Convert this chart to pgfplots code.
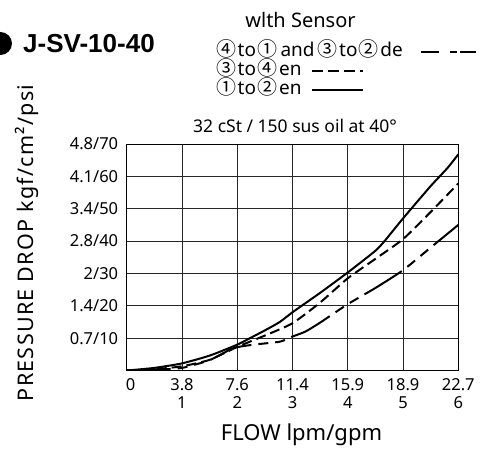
\documentclass[border=0pt]{standalone}
\usepackage{pgfplots}
\pgfplotsset{compat=1.18}
\usepackage{fontspec}
\setmainfont{Noto Sans}
\newfontfamily\cjk{Noto Sans CJK TC}
\newfontfamily\arial{Liberation Sans}
\newcommand\cn[1]{{\cjk\fontsize{20}{21}\selectfont #1}}
\begin{document}
\begin{tikzpicture}[x=1pt,y=1pt]
\begin{axis}[
  at={(126.7pt,77.5pt)}, anchor=south west,
  scale only axis, width=331.6pt, height=226.5pt,
  xmin=0, xmax=6, ymin=0, ymax=70,
  xtick={0,1,2,3,4,5,6}, ytick={0,10,20,30,40,50,60,70},
  xticklabels={{\hspace*{8pt}0},{3.8\\1},{7.6\\2},{11.4\\3},{15.9\\4},{18.9\\5},{22.7\\6}},
  yticklabels={,0.7/10,1.4/20,2/30,2.8/40,3.4/50,4.1/60,4.8/70},
  xticklabel style={align=center, font=\fontsize{16.5}{17.5}\selectfont, yshift=-5pt},
  yticklabel style={font=\fontsize{16.5}{18}\selectfont, xshift=-5pt},
  major tick length=0pt,
  grid=major, grid style={black!85, line width=0.9pt},
  axis line style={black, line width=1pt},
  clip=true,
]
% 1 to 2 en (solid)
\addplot[black, line width=2pt, smooth, tension=0.35] coordinates {
 (0,0) (0.5,0.8) (1,2.2) (1.5,4.6) (2,8) (2.5,12.4) (2.77,15) (3,18) (3.5,24)
 (4,30.3) (4.5,37) (4.68,40.3) (5,47) (5.5,57) (5.8,62.5) (6,66.8)};
% 3 to 4 en (medium dash)
\addplot[black, line width=2pt, smooth, tension=0.35, dash pattern=on 10pt off 5pt] coordinates {
 (0,0) (0.5,0.4) (1,1.3) (1.5,3.3) (2,7.3) (2.5,10.8) (3,14.6) (3.5,21)
 (4,28.5) (4.5,34.5) (5,40.6) (5.5,49) (6,57.8)};
% 4 to 1 and 3 to 2 de (long dash - short dashes)
\addplot[black, line width=2pt, smooth, tension=0.35, dash pattern=on 44pt off 7pt on 10pt off 7pt on 10pt off 7pt] coordinates {
 (0,0) (0.5,0.2) (1,0.8) (1.5,3.2) (1.93,6.9) (2.3,8.0) (2.77,8.9) (3,10.5)
 (3.23,12) (3.5,14.8) (4,20.5) (4.5,25.5) (5,31) (5.5,38) (6,45)};
\end{axis}
% bullet and title
\fill[black] (0.5,404.5) circle (11.5);
\node[anchor=base west, inner sep=0pt, font=\arial\bfseries\fontsize{26}{28}\selectfont] at (23,395) {J-SV-10-40};
% header texts
\node[anchor=base, inner sep=0pt, font=\fontsize{20}{22}\selectfont] at (300.5,420) {wlth Sensor};
\node[anchor=base west, inner sep=0pt, font=\fontsize{19}{21}\selectfont] at (216,391) {\cn{④}\kern1.5pt to\kern1.5pt\cn{①}\kern3pt and\kern3pt\cn{③}\kern1.5pt to\kern1.5pt\cn{②}\kern1.5pt de};
\node[anchor=base west, inner sep=0pt, font=\fontsize{19}{21}\selectfont] at (216,372) {\cn{③}\kern1.5pt to\kern1.5pt\cn{④}\kern1.5pt en};
\node[anchor=base west, inner sep=0pt, font=\fontsize{19}{21}\selectfont] at (216,353) {\cn{①}\kern1.5pt to\kern1.5pt\cn{②}\kern1.5pt en};
\draw[line width=2pt, dash pattern=on 18pt off 11pt on 7pt off 3pt on 16pt] (421,396) -- (476,396);
\draw[line width=2pt, dash pattern=on 11pt off 5pt] (312,377) -- (363,377);
\draw[line width=2pt] (312,358) -- (363,358);
\node[anchor=base, inner sep=0pt, font=\fontsize{17.5}{20}\selectfont] at (295,315) {32 cSt / 150 sus oil at 40°};
% axis labels
\node[rotate=90, anchor=base, inner sep=0pt, font=\addfontfeature{LetterSpace=6}\fontsize{21.5}{23}\selectfont] at (34,205) {PRESSURE DROP kgf/cm²/psi};
\node[anchor=base, inner sep=0pt, font=\fontsize{22}{24}\selectfont] at (301.5,8) {FLOW lpm/gpm};
\pgfresetboundingbox
\useasboundingbox (0,0) rectangle (482,448);
\end{tikzpicture}
\end{document}
